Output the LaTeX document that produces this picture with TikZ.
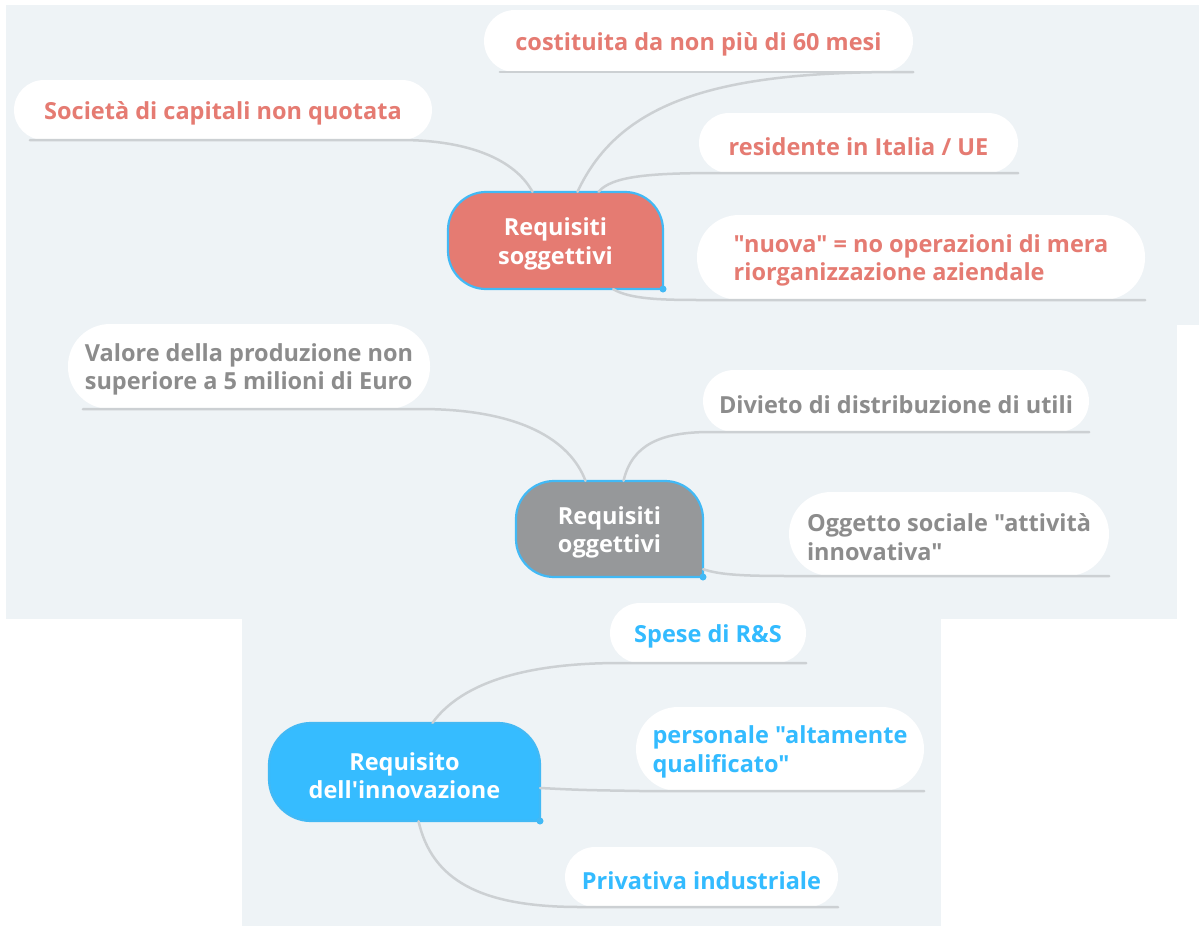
\documentclass[tikz,border=0pt]{standalone}
\usepackage{fontspec}
\setmainfont{Open Sans}[Ligatures=TeXOff]
\usetikzlibrary{calc}
\definecolor{bgc}{HTML}{EEF3F6}
\definecolor{salm}{HTML}{E57B72}
\definecolor{greytxt}{HTML}{8C8C8C}
\definecolor{greyfill}{HTML}{96989A}
\definecolor{bluetxt}{HTML}{33BBFF}
\definecolor{bluefill}{HTML}{36BCFF}
\definecolor{mtborder}{HTML}{42B9F5}
\definecolor{linec}{HTML}{CCD0D3}
\newcommand{\mtshape}[6]{%
 \filldraw[fill=#1, draw=mtborder, line width=2.2pt] (#4,#5) -- (#4,{#3+#6}) .. controls (#4,{#3+0.45*#6}) and ({#4-0.45*#6},#3) .. ({#4-#6},#3) -- ({#2+#6},#3) .. controls ({#2+0.45*#6},#3) and (#2,{#3+0.45*#6}) .. (#2,{#3+#6}) -- (#2,{#5-#6}) .. controls (#2,{#5-0.45*#6}) and ({#2+0.45*#6},#5) .. ({#2+#6},#5) -- cycle;
 \fill[mtborder] (#4,#5) circle (3.5pt);
}
\tikzset{
 pill/.style={fill=white, inner sep=0pt},
 frame/.style={inner sep=0pt},
 pilltext/.style={inner sep=0pt, font=\bfseries\fontsize{23.5}{28.5}\selectfont, align=left},
 mttext/.style={inner sep=0pt, text=white, font=\bfseries\fontsize{23.5}{28.5}\selectfont, align=center},
 conn/.style={draw=linec, line width=2.5pt, line cap=round}
}
\begin{document}
\begin{tikzpicture}[x=1pt,y=-1pt]
\useasboundingbox (0,0) rectangle (1199,926);
\fill[bgc] (6,5) rectangle (1199,325);
\fill[bgc] (6,325) rectangle (1177,619);
\fill[bgc] (242,619) rectangle (941,926);

% main topic shapes
\mtshape{salm}{448}{192}{663}{289}{38}
\mtshape{greyfill}{516}{481}{703}{577}{38}
\mtshape{bluefill}{269}{723}{540}{821}{42}
\node[frame, minimum width=215pt, minimum height=97pt] (m1) at (555.5,240.5) {};
\node[frame, minimum width=187pt, minimum height=96pt] (m2) at (609.5,529) {};
\node[frame, minimum width=271pt, minimum height=98pt] (m3) at (404.5,772) {};
\node[mttext] (m1t) at ([yshift=-3.5pt]m1.center) {Requisiti\\soggettivi};
\node[mttext] (m2t) at ([yshift=-3.5pt]m2.center) {Requisiti\\oggettivi};
\node[mttext] (m3t) at ([yshift=-3.5pt]m3.center) {Requisito\\dell'innovazione};

% subtopic pills
\node[pill, rounded corners=30pt, minimum width=418pt, minimum height=60pt] (p1) at (223,110) {};
\node[pill, rounded corners=31pt, minimum width=429pt, minimum height=62pt] (p2) at (698.5,41) {};
\node[pill, rounded corners=30pt, minimum width=319pt, minimum height=60pt] (p3) at (858.5,143) {};
\node[pill, rounded corners=42pt, minimum width=448pt, minimum height=85pt] (p4) at (921,257.5) {};
\node[pill, rounded corners=42pt, minimum width=362pt, minimum height=85pt] (p5) at (249,366.5) {};
\node[pill, rounded corners=31pt, minimum width=386pt, minimum height=62pt] (p6) at (896,401) {};
\node[pill, rounded corners=42pt, minimum width=320pt, minimum height=84pt] (p7) at (949,534) {};
\node[pill, rounded corners=30pt, minimum width=196pt, minimum height=60pt] (p8) at (708,633) {};
\node[pill, rounded corners=42pt, minimum width=288pt, minimum height=84pt] (p9) at (780,749) {};
\node[pill, rounded corners=30pt, minimum width=273pt, minimum height=60pt] (p10) at (701.5,877) {};

\node[pilltext, text=salm] (p1t) at ([yshift=-3.5pt]p1.center) {Società di capitali non quotata};
\node[pilltext, text=salm] (p2t) at ([yshift=-3.5pt]p2.center) {costituita da non più di 60 mesi};
\node[pilltext, text=salm] (p3t) at ([yshift=-3.5pt]p3.center) {residente in Italia / UE};
\node[pilltext, text=salm] (p4t) at ([yshift=-3pt]p4.center) {"nuova" = no operazioni di mera\\riorganizzazione aziendale};
\node[pilltext, text=greytxt] (p5t) at ([yshift=-3pt]p5.center) {Valore della produzione non\\superiore a 5 milioni di Euro};
\node[pilltext, text=greytxt] (p6t) at ([yshift=-3.5pt]p6.center) {Divieto di distribuzione di utili};
\node[pilltext, text=greytxt] (p7t) at ([yshift=-3pt]p7.center) {Oggetto sociale "attività\\innovativa"};
\node[pilltext, text=bluetxt] (p8t) at ([yshift=-3.5pt]p8.center) {Spese di R\&S};
\node[pilltext, text=bluetxt] (p9t) at ([yshift=-3pt]p9.center) {personale "altamente\\qualificato"};
\node[pilltext, text=bluetxt] (p10t) at ([yshift=-3.5pt]p10.center) {Privativa industriale};

% connectors
\draw[conn] ([xshift=-23pt]m1.north) .. controls (515,160) and (470,140) .. (400,140) -- ([xshift=16pt]p1.south west);
\draw[conn] ([xshift=16pt]p2.south west) -- (p2.south east);
\draw[conn] ([xshift=22pt]m1.north) .. controls (620,100) and (720,72) .. (900,72) -- (p2.south east);
\draw[conn] ([xshift=43pt]m1.north) .. controls (612,176) and (650,173) .. (720,173) -- (p3.south east);
\draw[conn] ([xshift=-50pt]m1.south east) .. controls (630,299) and (660,300) .. (700,300) -- (p4.south east);

\draw[conn] ([xshift=-24pt]m2.north) .. controls (570,440) and (520,409) .. (420,409) -- ([xshift=15pt]p5.south west);
\draw[conn] ([xshift=14pt]m2.north) .. controls (632,445) and (660,432) .. (710,432) -- (p6.south east);
\draw[conn] ([yshift=8pt]m2.south east) .. controls (720,575) and (745,576) .. (790,576) -- (p7.south east);

\draw[conn] ([xshift=28pt]m3.north) .. controls (460,685) and (520,663) .. (620,663) -- (p8.south east);
\draw[conn] ([yshift=-16pt]m3.east) .. controls (580,790) .. (640,791) -- (p9.south east);
\draw[conn] ([xshift=14pt]m3.south) .. controls (432,880) and (480,907) .. (580,907) -- (p10.south east);
\end{tikzpicture}
\end{document}
